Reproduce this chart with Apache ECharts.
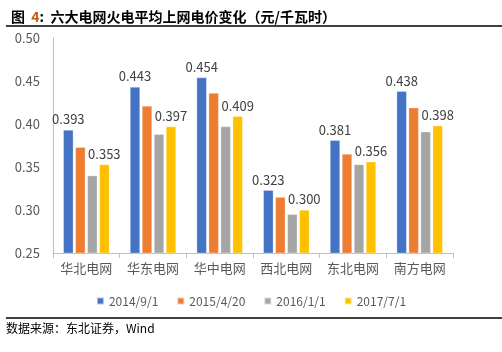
<!DOCTYPE html>
<html>
<head>
<meta charset="utf-8">
<script src="https://cdn.jsdelivr.net/npm/echarts@6/dist/echarts.min.js"></script>
<style>
  html, body { margin: 0; padding: 0; background: #fff; }
  #chart { width: 502px; height: 352px; }
</style>
</head>
<body>
<div id="chart"></div>
<script>
// 六大电网火电平均上网电价 (元/千瓦时)
var grids = ['华北电网', '华东电网', '华中电网', '西北电网', '东北电网', '南方电网'];
var dates = ['2014/9/1', '2015/4/20', '2016/1/1', '2017/7/1'];
var price2014 = [0.393, 0.443, 0.454, 0.323, 0.381, 0.438];
var price2015 = [0.373, 0.421, 0.436, 0.315, 0.365, 0.419];
var price2016 = [0.340, 0.388, 0.397, 0.295, 0.353, 0.391];
var price2017 = [0.353, 0.397, 0.409, 0.300, 0.356, 0.398];
var yTicks = ['0.25', '0.30', '0.35', '0.40', '0.45', '0.50'];

var colors = ['#4472C4', '#ED7D31', '#A5A5A5', '#FFC000'];
var cjk = '"Noto Sans CJK SC", "Noto Sans", sans-serif';

var chart = echarts.init(document.getElementById('chart'));

function barSeries(name, data, showLabel) {
    return {
        name: name,
        type: 'bar',
        data: data,
        barWidth: 10,
        barGap: '20%',
        itemStyle: { borderColor: 'rgba(255,255,255,0.6)', borderWidth: 0.5 },
        label: {
            show: showLabel,
            position: 'top',
            distance: 4,
            color: '#404040',
            fontSize: 13,
            fontFamily: cjk,
            formatter: function (p) { return p.value.toFixed(3); }
        }
    };
}

var option = {
    animation: false,
    backgroundColor: '#fff',
    color: colors,
    title: {
        text: '{a|图  }{b|4}{a|:  六大电网火电平均上网电价变化（元/千瓦时）}',
        left: 6,
        top: 5,
        textStyle: {
            rich: {
                a: { fontSize: 14, fontWeight: 'bold', color: '#000', fontFamily: cjk },
                b: { fontSize: 14, fontWeight: 'bold', color: '#C55A11', fontFamily: cjk }
            }
        }
    },
    graphic: [
        { type: 'line', shape: { x1: 6, y1: 26, x2: 502, y2: 26 }, style: { stroke: '#000', lineWidth: 1.5 } },
        { type: 'line', shape: { x1: 6, y1: 318, x2: 502, y2: 318 }, style: { stroke: '#000', lineWidth: 1.5 } },
        { type: 'text', left: 6, top: 322, style: { text: '数据来源：东北证券，Wind', fill: '#000', font: '12px ' + cjk } }
    ],
    legend: {
        data: dates,
        top: 290,
        left: 'center',
        itemWidth: 7,
        itemHeight: 7,
        itemGap: 18,
        icon: 'rect',
        textStyle: { color: '#595959', fontSize: 12, fontFamily: cjk }
    },
    grid: { left: 53, right: 49, top: 38, bottom: 99 },
    xAxis: {
        type: 'category',
        data: grids,
        axisLine: { lineStyle: { color: '#BFBFBF', width: 1 } },
        axisTick: { show: true, length: 5, lineStyle: { color: '#BFBFBF' } },
        axisLabel: { interval: 0, color: '#595959', fontSize: 13, margin: 9, fontFamily: cjk }
    },
    yAxis: {
        type: 'value',
        min: 0.25,
        max: 0.50,
        interval: 0.05,
        axisLine: { show: true, lineStyle: { color: '#BFBFBF', width: 1 } },
        axisTick: { show: false },
        splitLine: { show: false },
        axisLabel: {
            color: '#595959',
            fontSize: 13,
            margin: 13,
            fontFamily: cjk,
            formatter: function (v) {
                var idx = Math.round((v - 0.25) / 0.05);
                return yTicks[idx];
            }
        }
    },
    series: [
        barSeries(dates[0], price2014, true),
        barSeries(dates[1], price2015, false),
        barSeries(dates[2], price2016, false),
        barSeries(dates[3], price2017, true)
    ]
};

chart.setOption(option);
</script>
</body>
</html>
